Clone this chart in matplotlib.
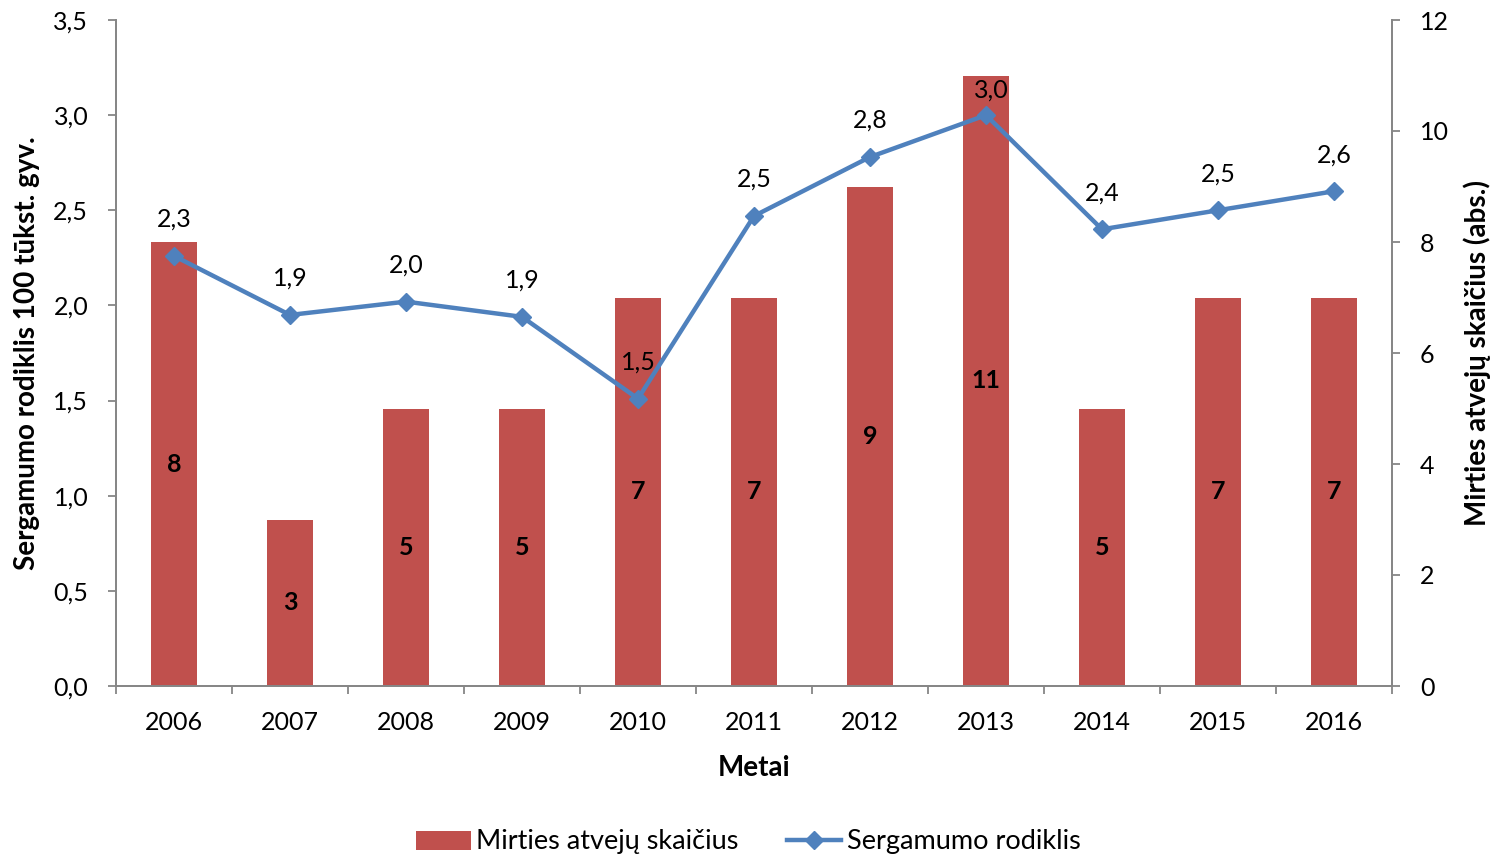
import matplotlib
matplotlib.use("Agg")
import matplotlib.pyplot as plt
from matplotlib.ticker import FixedLocator, FuncFormatter
from matplotlib.lines import Line2D
from matplotlib.patches import Patch

years = ["2006", "2007", "2008", "2009", "2010", "2011", "2012", "2013", "2014", "2015", "2016"]
deaths = [8, 3, 5, 5, 7, 7, 9, 11, 5, 7, 7]
rate = [2.26, 1.95, 2.02, 1.94, 1.51, 2.47, 2.78, 3.00, 2.40, 2.50, 2.60]
rate_labels = ["2,3", "1,9", "2,0", "1,9", "1,5", "2,5", "2,8", "3,0", "2,4", "2,5", "2,6"]

plt.rcParams['font.family'] = ['Lato', 'DejaVu Sans']
RED = "#C0504D"
BLUE = "#4F81BD"
GRAY = "#868686"
FS = 18

fig = plt.figure(figsize=(14.97, 8.57), dpi=100)
ax = fig.add_axes([116/1497, 1-686/857, (1392-116)/1497, (686-20)/857])
ax2 = ax.twinx()
ax.set_zorder(ax2.get_zorder() + 1)
ax.patch.set_visible(False)

x = list(range(len(years)))
ax2.bar(x, deaths, width=0.4, color=RED, zorder=2)
for xi, d in zip(x, deaths):
    ax2.text(xi, d / 2, str(d), ha='center', va='center', fontsize=FS, fontweight='bold', color='black')

ax.plot(x, rate, color=BLUE, lw=3.2, marker='D', markersize=9, zorder=3)
for xi, r, lab in zip(x, rate, rate_labels):
    off = (4, 10) if lab == "3,0" and xi == 7 else (0, 18)
    ax.annotate(lab, (xi, r), xytext=off, textcoords='offset points', ha='center', va='bottom', fontsize=FS)

ax.set_xlim(-0.5, len(years) - 0.5)
ax.set_ylim(0, 3.5)
ax2.set_ylim(0, 12)
ax.set_yticks([0, 0.5, 1.0, 1.5, 2.0, 2.5, 3.0, 3.5])
ax.yaxis.set_major_formatter(FuncFormatter(lambda v, p: f"{v:.1f}".replace('.', ',')))
ax2.set_yticks([0, 2, 4, 6, 8, 10, 12])
ax2.yaxis.set_major_formatter(FuncFormatter(lambda v, p: f"{int(v)}"))

ax.xaxis.set_major_locator(FixedLocator([i - 0.5 for i in range(len(years) + 1)]))
ax.xaxis.set_major_formatter(FuncFormatter(lambda v, p: ""))
ax.xaxis.set_minor_locator(FixedLocator(x))
ax.set_xticklabels(years, minor=True)
ax.tick_params(axis='x', which='minor', length=0, labelsize=FS, pad=18)
ax.tick_params(axis='x', which='major', length=6, color=GRAY, width=1.3)
ax.tick_params(axis='y', labelsize=FS, length=6, color=GRAY, width=1.3, pad=14)
ax2.tick_params(axis='y', labelsize=FS, length=6, color=GRAY, width=1.3, pad=14)
for lbl in ax2.get_yticklabels():
    lbl.set_horizontalalignment('left')

for a in (ax, ax2):
    a.spines['top'].set_visible(False)
    for s in ('left', 'right', 'bottom'):
        a.spines[s].set_color(GRAY)
        a.spines[s].set_linewidth(1.3)

ax.set_ylabel("Sergamumo rodiklis 100 tūkst. gyv.", fontsize=20, fontweight='bold', va='center')
ax.yaxis.set_label_coords((27 - 116) / 1276, 0.5)
ax2.set_ylabel("Mirties atvejų skaičius (abs.)", fontsize=20, fontweight='bold', va='center')
ax2.yaxis.set_label_coords((1477 - 116) / 1276, 0.5)
ax.set_xlabel("Metai", fontsize=20, fontweight='bold', va='center')
ax.xaxis.set_label_coords(0.5, (686 - 768) / 666)

handles = [Patch(facecolor=RED, edgecolor='none'),
           Line2D([0], [0], color=BLUE, lw=3.2, marker='D', markersize=9)]
fig.legend(handles, ["Mirties atvejų skaičius", "Sergamumo rodiklis"], loc='center',
           bbox_to_anchor=(0.5, 1 - 842/857), ncol=2, frameon=False, fontsize=19.5,
           handlelength=2.0, handletextpad=0.2, columnspacing=1.8)

fig.savefig("out.png", dpi=100)
